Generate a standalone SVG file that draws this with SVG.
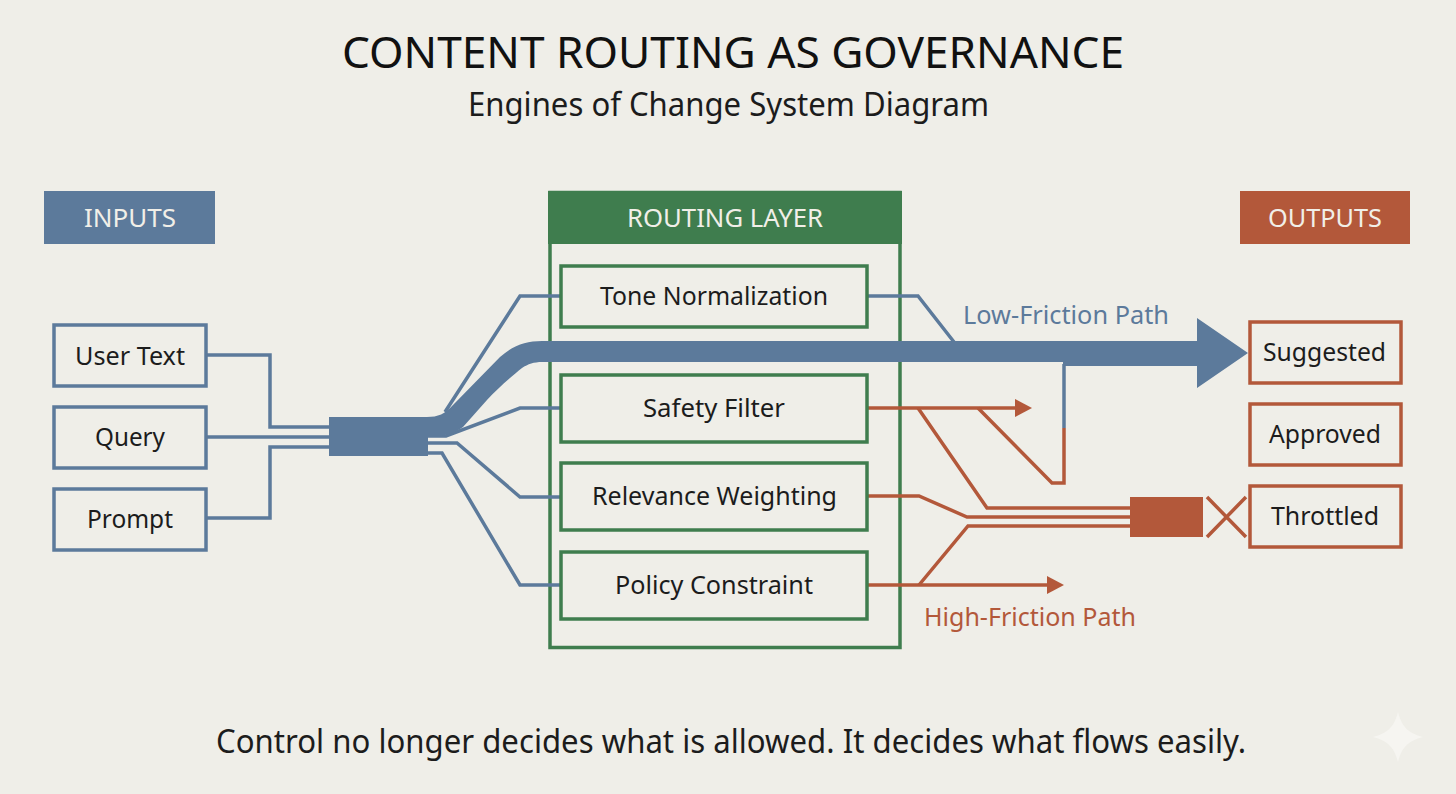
<svg xmlns="http://www.w3.org/2000/svg" width="1456" height="794" viewBox="0 0 1456 794">
<style>
text{font-family:"Noto Sans","Liberation Sans",sans-serif;fill:#1c1c1c}
.t{font-size:26px}
.h{font-size:26px;fill:#f1efe8}
.bb{fill:#efeee8;stroke:#5c7a9b;stroke-width:3.5}
.gb{fill:#efeee8;stroke:#3f7d4e;stroke-width:3.5}
.rb{fill:#efeee8;stroke:#b3583a;stroke-width:3.5}
.bl{fill:none;stroke:#5c7a9b;stroke-width:3.5;stroke-linejoin:miter}
.rl{fill:none;stroke:#b3583a;stroke-width:3.5;stroke-linejoin:miter}
.bf{fill:#5c7a9b}
.rf{fill:#b3583a}
.gf{fill:#3f7d4e}
</style>
<defs>
<marker id="ra" markerUnits="userSpaceOnUse" markerWidth="17" markerHeight="18" refX="0" refY="9" orient="auto"><path d="M0 0L17 9L0 18Z" fill="#b3583a"/></marker>
</defs>
<rect id="background" width="1456" height="794" fill="#efeee8"/>
<g id="titles">
<text x="342" y="68" font-size="44" textLength="782" lengthAdjust="spacingAndGlyphs" style="fill:#111">CONTENT ROUTING AS GOVERNANCE</text>
<text x="468" y="116" font-size="32" textLength="521" lengthAdjust="spacingAndGlyphs" style="fill:#1c1c1c">Engines of Change System Diagram</text>
<text x="216" y="753" font-size="33" textLength="1030" lengthAdjust="spacingAndGlyphs" style="fill:#1c1c1c">Control no longer decides what is allowed. It decides what flows easily.</text>
</g>
<g id="routing-layer">
<rect class="gb" x="550" y="192.500" width="350" height="455" style="fill:none"/>
<rect class="gf" x="548" y="191" width="354" height="53"/>
<text class="h" x="627" y="227" textLength="196" lengthAdjust="spacingAndGlyphs">ROUTING LAYER</text>
</g>
<g id="connectors">
<path class="bl" d="M207 355H270V427H329M207 437H329M207 518H270V447H329"/>
<path class="bl" d="M445 412L520 296H561M428 436H446L520 408H561M428 443H457L520 497H561M428 453H442L520 585H561"/>
<path class="bl" d="M868 296H918L954 342"/>
<path class="bf" d="M427 417C438 417 445 414 453 405L500 357C514 345 526 341 542 341H1197V318L1248 353L1197 388V366H1063V362H542C534 362 528 364 522 368C512 376 497 389 487 400L463 427C456 432 450 434 440 436H427Z"/>
<rect class="bf" x="329" y="417" width="99" height="39"/>
<path class="rl" d="M868 408H1015" marker-end="url(#ra)"/>
<path class="rl" d="M918 408L987 508H1130M978 408L1052 483H1064V428"/>
<path class="bl" d="M1064 428V364"/>
<path class="rl" d="M868 496H919L967 517H1130"/>
<path class="rl" d="M868 585H1047" marker-end="url(#ra)"/>
<path class="rl" d="M919 585L968 526H1130"/>
<rect class="rf" x="1130" y="497" width="73" height="40"/>
<path class="rl" d="M1207 497L1246 537M1246 497L1207 537"/>
</g>
<g id="inputs-header"><rect class="bf" x="44" y="191" width="171" height="53"/><text class="h" x="84" y="227" textLength="92" lengthAdjust="spacingAndGlyphs">INPUTS</text></g>
<g id="outputs-header"><rect class="rf" x="1240" y="191" width="170" height="53"/><text class="h" x="1268" y="227" textLength="114" lengthAdjust="spacingAndGlyphs">OUTPUTS</text></g>
<g id="user-text"><rect class="bb" x="54" y="325" width="152" height="61"/><text class="t" x="75" y="365" textLength="110" lengthAdjust="spacingAndGlyphs">User Text</text></g>
<g id="query"><rect class="bb" x="54" y="407" width="152" height="61"/><text class="t" x="95" y="446" textLength="70" lengthAdjust="spacingAndGlyphs">Query</text></g>
<g id="prompt"><rect class="bb" x="54" y="489" width="152" height="61"/><text class="t" x="87" y="528" textLength="86" lengthAdjust="spacingAndGlyphs">Prompt</text></g>
<g id="tone-normalization"><rect class="gb" x="561" y="266" width="306" height="61"/><text class="t" x="600" y="305" textLength="228" lengthAdjust="spacingAndGlyphs">Tone Normalization</text></g>
<g id="safety-filter"><rect class="gb" x="561" y="375" width="306" height="67"/><text class="t" x="643" y="417" textLength="142" lengthAdjust="spacingAndGlyphs">Safety Filter</text></g>
<g id="relevance-weighting"><rect class="gb" x="561" y="463" width="306" height="67"/><text class="t" x="592" y="505" textLength="245" lengthAdjust="spacingAndGlyphs">Relevance Weighting</text></g>
<g id="policy-constraint"><rect class="gb" x="561" y="552" width="306" height="67"/><text class="t" x="615" y="594" textLength="198" lengthAdjust="spacingAndGlyphs">Policy Constraint</text></g>
<g id="suggested"><rect class="rb" x="1250" y="322" width="151" height="61"/><text class="t" x="1263" y="361" textLength="123" lengthAdjust="spacingAndGlyphs">Suggested</text></g>
<g id="approved"><rect class="rb" x="1250" y="404" width="151" height="61"/><text class="t" x="1269" y="443" textLength="112" lengthAdjust="spacingAndGlyphs">Approved</text></g>
<g id="throttled"><rect class="rb" x="1250" y="486" width="151" height="61"/><text class="t" x="1271" y="525" textLength="108" lengthAdjust="spacingAndGlyphs">Throttled</text></g>
<g id="path-labels">
<text x="963" y="324" font-size="26" textLength="206" lengthAdjust="spacingAndGlyphs" style="fill:#5c7a9b">Low-Friction Path</text>
<text x="924" y="626" font-size="26" textLength="212" lengthAdjust="spacingAndGlyphs" style="fill:#b3583a">High-Friction Path</text>
</g>
<path id="sparkle" d="M1398 712C1402 727 1408 733 1423 737C1408 741 1402 747 1398 762C1394 747 1388 741 1373 737C1388 733 1394 727 1398 712Z" fill="#f6f5f1"/>
</svg>
